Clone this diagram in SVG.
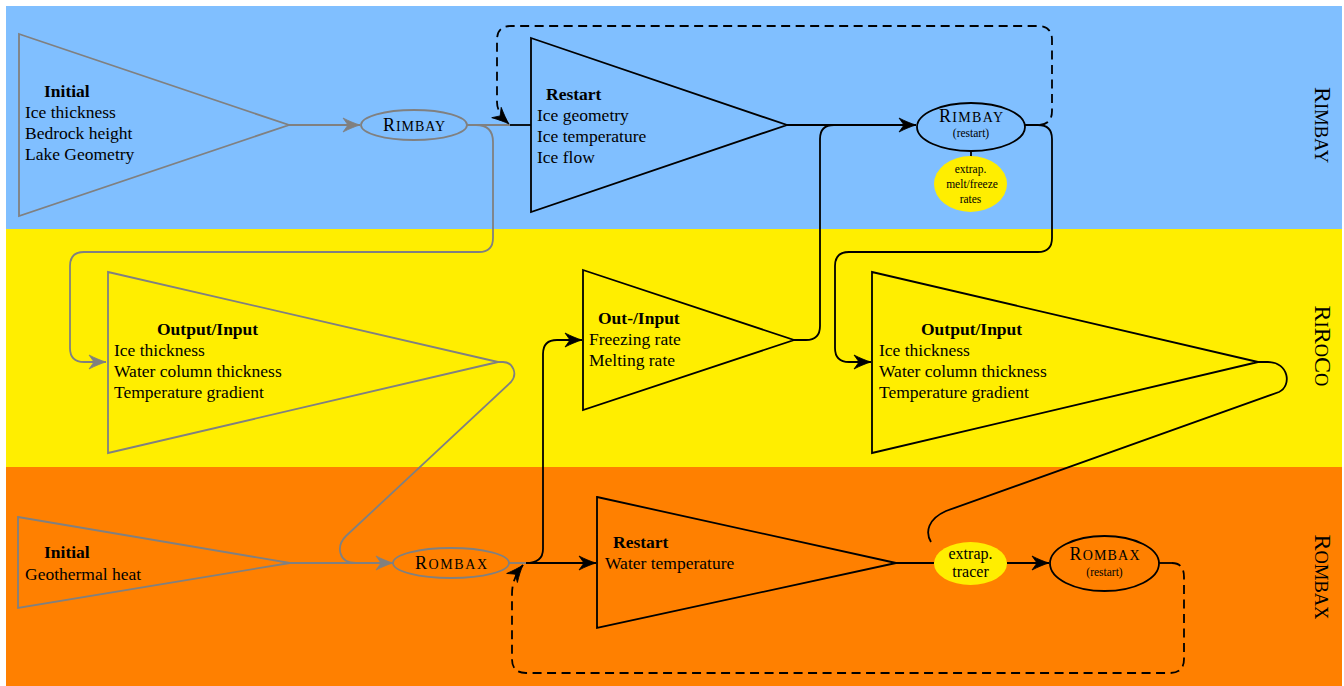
<svg xmlns="http://www.w3.org/2000/svg" width="1344" height="686" viewBox="0 0 1344 686">
<defs>
<style>
text{font-family:"Liberation Serif","Times New Roman",serif;fill:#000}
.t{font-size:17.5px}
.b{font-weight:bold}
.sm{font-size:11.5px}
.gs{fill:none;stroke:#808080;stroke-width:1.8}
.bs{fill:none;stroke:#000;stroke-width:1.8}
.ds{fill:none;stroke:#000;stroke-width:1.8;stroke-dasharray:9 5.5}
.tri{stroke-width:1.8;stroke-linejoin:miter}
</style>
<marker id="ab" viewBox="-18 -8 19 16" markerWidth="19" markerHeight="16" refX="0" refY="0" orient="auto" markerUnits="userSpaceOnUse">
<path d="M0,0 C-5,-1.4 -11,-4 -17,-7 L-12,0 L-17,7 C-11,4 -5,1.4 0,0 Z" fill="#000" stroke="#000" stroke-width="0.8" stroke-dasharray="none"/>
</marker>
<marker id="ag" viewBox="-18 -8 19 16" markerWidth="19" markerHeight="16" refX="0" refY="0" orient="auto" markerUnits="userSpaceOnUse">
<path d="M0,0 C-5,-1.4 -11,-4 -17,-7 L-12,0 L-17,7 C-11,4 -5,1.4 0,0 Z" fill="#808080" stroke="#808080" stroke-width="0.8"/>
</marker>
</defs>

<g id="bands">
<rect x="6" y="6" width="1336" height="223" fill="#80BFFF"/>
<rect x="6" y="229" width="1336" height="238" fill="#FFEE00"/>
<rect x="6" y="467" width="1336" height="219" fill="#FF8000"/>
<text transform="translate(1315,125) rotate(90)" text-anchor="middle" font-size="24"><tspan>R</tspan><tspan font-size="18.5">IMBAY</tspan></text>
<text transform="translate(1315,346) rotate(90)" text-anchor="middle" font-size="24"><tspan>R</tspan><tspan font-size="18.5">I</tspan><tspan>R</tspan><tspan font-size="18.5">O</tspan><tspan>C</tspan><tspan font-size="18.5">O</tspan></text>
<text transform="translate(1315,577) rotate(90)" text-anchor="middle" font-size="24"><tspan>R</tspan><tspan font-size="18.5">OMBAX</tspan></text>
</g>

<g id="connectors">
<!-- gray -->
<path class="gs" d="M289,125 L360,125" marker-end="url(#ag)"/>
<path class="gs" d="M467,125 L510,125"/>
<path class="gs" d="M476,125 Q493,125 493,142 L493,238 Q493,252 479,252 L84,252 Q70,252 70,266 L70,348 Q70,362 84,362 L106,362" marker-end="url(#ag)"/>
<path class="gs" d="M498,362 L503,362 C513,362 518,374 511,382 L346,536 C336,546 338,563 356,563"/>
<path class="gs" d="M290,563 L393,563" marker-end="url(#ag)"/>
<path class="gs" d="M509,563 L527,563"/>
<!-- black -->
<path class="bs" d="M510,125 L531,125"/>
<path class="bs" d="M787,125 L916,125" marker-end="url(#ab)"/>
<path class="bs" d="M794,340 L806,340 Q820,340 820,326 L820,139 Q820,125 834,125 L845,125"/>
<path class="bs" d="M1025,125 L1038,125 Q1052,125 1052,139 L1052,238 Q1052,252 1038,252 L849,252 Q835,252 835,266 L835,348 Q835,362 849,362 L871,362" marker-end="url(#ab)"/>
<path class="bs" d="M971,151 L971,157"/>
<path class="bs" d="M526,563 Q543,563 543,549 L543,354 Q543,340 557,340 L582,340" marker-end="url(#ab)"/>
<path class="bs" d="M526,563 L596,563" marker-end="url(#ab)"/>
<path class="bs" d="M896,563 L934,563"/>
<path class="bs" d="M1007,563 L1049,563" marker-end="url(#ab)"/>
<path class="bs" d="M1258,362 L1268,362 C1289,362 1292,386 1279,392 L946,511 C928,519 925,532 931,542"/>
<path class="bs" d="M1159,563 L1172,563"/>
<!-- dashed -->
<path class="ds" d="M1025,125 L1038,125 Q1052,125 1052,111 L1052,40 Q1052,26 1038,26 L511,26 Q497,26 497,40 L497,102 Q497,113 509,124" marker-end="url(#ab)"/>
<path class="ds" d="M1172,563 Q1184,563 1184,577 L1184,659 Q1184,673 1170,673 L526,673 Q512,673 512,659 L512,594 Q512,578 523,565" marker-end="url(#ab)"/>
</g>

<g id="initial1">
<polygon class="tri" points="19,34 289,125 19,216" fill="none" stroke="#808080"/>
<text class="t b" x="44" y="97">Initial</text>
<text class="t" x="25" y="118">Ice thickness</text>
<text class="t" x="25" y="139">Bedrock height</text>
<text class="t" x="25" y="160">Lake Geometry</text>
</g>

<g id="rimbay1">
<ellipse cx="414" cy="125" rx="53" ry="15" fill="none" stroke="#808080" stroke-width="1.8"/>
<text x="414" y="130.5" text-anchor="middle" font-size="18" textLength="62" lengthAdjust="spacing"><tspan>R</tspan><tspan font-size="14">IMBAY</tspan></text>
</g>

<g id="restart1">
<polygon class="tri" points="531,38 787,125 531,212" fill="none" stroke="#000"/>
<text class="t b" x="546" y="100">Restart</text>
<text class="t" x="537" y="121">Ice geometry</text>
<text class="t" x="537" y="142">Ice temperature</text>
<text class="t" x="537" y="163">Ice flow</text>
</g>

<g id="rimbay2">
<ellipse cx="971" cy="127" rx="54" ry="24" fill="none" stroke="#000" stroke-width="1.8"/>
<text x="971" y="122" text-anchor="middle" font-size="18" textLength="64" lengthAdjust="spacing"><tspan>R</tspan><tspan font-size="14">IMBAY</tspan></text>
<text class="sm" x="971" y="137" text-anchor="middle">(restart)</text>
</g>

<g id="extrap1">
<ellipse cx="970.5" cy="184" rx="36.5" ry="28" fill="#FFEE00"/>
<text class="sm" x="970.5" y="173" text-anchor="middle">extrap.</text>
<text class="sm" x="972" y="188" text-anchor="middle">melt/freeze</text>
<text class="sm" x="970.5" y="203" text-anchor="middle">rates</text>
</g>

<g id="output1">
<polygon class="tri" points="108,272 498,362 108,453" fill="none" stroke="#808080"/>
<text class="t b" x="157" y="335">Output/Input</text>
<text class="t" x="114" y="356">Ice thickness</text>
<text class="t" x="114" y="377">Water column thickness</text>
<text class="t" x="114" y="398">Temperature gradient</text>
</g>

<g id="outinput">
<polygon class="tri" points="583,270 794,340 583,410" fill="none" stroke="#000"/>
<text class="t b" x="598" y="324">Out-/Input</text>
<text class="t" x="589" y="345">Freezing rate</text>
<text class="t" x="589" y="366">Melting rate</text>
</g>

<g id="output2">
<polygon class="tri" points="872,272 1258,362 872,453" fill="none" stroke="#000"/>
<text class="t b" x="921" y="335">Output/Input</text>
<text class="t" x="879" y="356">Ice thickness</text>
<text class="t" x="879" y="377">Water column thickness</text>
<text class="t" x="879" y="398">Temperature gradient</text>
</g>

<g id="initial2">
<polygon class="tri" points="18,517 290,563 18,608" fill="none" stroke="#808080"/>
<text class="t b" x="44" y="558">Initial</text>
<text class="t" x="25" y="580">Geothermal heat</text>
</g>

<g id="rombax1">
<ellipse cx="451" cy="563" rx="58" ry="15" fill="none" stroke="#808080" stroke-width="1.8"/>
<text x="451" y="568.5" text-anchor="middle" font-size="18" textLength="72" lengthAdjust="spacing"><tspan>R</tspan><tspan font-size="14">OMBAX</tspan></text>
</g>

<g id="restart2">
<polygon class="tri" points="597,497 896,563 597,628" fill="none" stroke="#000"/>
<text class="t b" x="613" y="548">Restart</text>
<text class="t" x="605" y="569">Water temperature</text>
</g>

<g id="extrap2">
<ellipse cx="970.5" cy="563.5" rx="36.5" ry="21.5" fill="#FFEE00"/>
<text x="970.5" y="559" text-anchor="middle" font-size="16">extrap.</text>
<text x="970.5" y="577" text-anchor="middle" font-size="16">tracer</text>
</g>

<g id="rombax2">
<ellipse cx="1104.5" cy="563.5" rx="54.5" ry="27.5" fill="none" stroke="#000" stroke-width="1.8"/>
<text x="1104.5" y="560" text-anchor="middle" font-size="18" textLength="70" lengthAdjust="spacing"><tspan>R</tspan><tspan font-size="14">OMBAX</tspan></text>
<text class="sm" x="1104.5" y="576" text-anchor="middle">(restart)</text>
</g>
</svg>
